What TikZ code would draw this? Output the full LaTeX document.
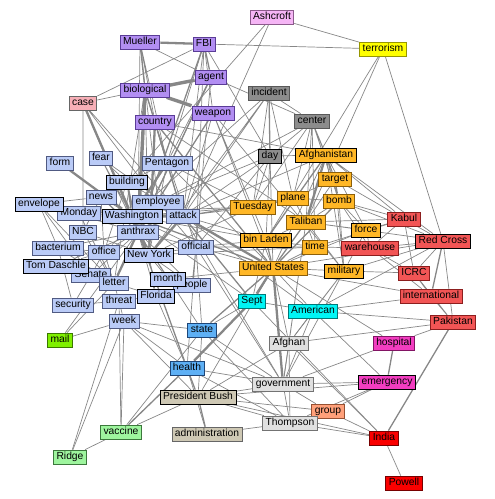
\documentclass[tikz,border=0pt]{standalone}
\usepackage{fontspec}
\setmainfont{Liberation Sans}
\usepackage{xcolor}
\usetikzlibrary{backgrounds}
\definecolor{EdgeGray}{RGB}{135,135,135}
\definecolor{PurpFill}{RGB}{178,142,242}
\definecolor{PurpLine}{RGB}{90,60,150}
\definecolor{BlueFill}{RGB}{186,203,247}
\definecolor{BlueLine}{RGB}{80,90,130}
\definecolor{OrangeFill}{RGB}{255,183,38}
\definecolor{OrangeLine}{RGB}{140,95,10}
\definecolor{RedFill}{RGB}{242,85,85}
\definecolor{RedLine}{RGB}{140,30,30}
\definecolor{PinkFill}{RGB}{245,181,245}
\definecolor{PinkLine}{RGB}{140,90,140}
\definecolor{YellowFill}{RGB}{255,255,0}
\definecolor{YellowLine}{RGB}{150,150,0}
\definecolor{CaseFill}{RGB}{247,175,183}
\definecolor{DarkGrayFill}{RGB}{140,140,140}
\definecolor{LightGrayFill}{RGB}{224,224,224}
\definecolor{TanFill}{RGB}{206,200,180}
\definecolor{CyanFill}{RGB}{0,245,245}
\definecolor{CyanLine}{RGB}{0,120,120}
\definecolor{StateFill}{RGB}{94,176,245}
\definecolor{StateLine}{RGB}{30,70,120}
\definecolor{MailFill}{RGB}{127,240,0}
\definecolor{MailLine}{RGB}{60,120,0}
\definecolor{GreenFill}{RGB}{158,245,158}
\definecolor{GreenLine}{RGB}{60,120,60}
\definecolor{MagentaFill}{RGB}{242,61,192}
\definecolor{MagentaLine}{RGB}{130,20,100}
\definecolor{GroupFill}{RGB}{255,160,122}
\definecolor{GroupLine}{RGB}{150,80,50}
\definecolor{IndiaFill}{RGB}{250,0,0}
\definecolor{IndiaLine}{RGB}{120,0,0}

\tikzset{
	term/.style={draw, line width=0.8pt, inner xsep=3pt, inner ysep=2pt,
		text height=7.6pt, text depth=2.3pt, font=\fontsize{10.3}{12}\selectfont},
	purp/.style={term, fill=PurpFill, draw=PurpLine},
	lblue/.style={term, fill=BlueFill, draw=BlueLine},
	orng/.style={term, fill=OrangeFill, draw=OrangeLine},
	rd/.style={term, fill=RedFill, draw=RedLine},
	dgray/.style={term, fill=DarkGrayFill, draw=black!65},
	lgray/.style={term, fill=LightGrayFill, draw=black!55},
	tan/.style={term, fill=TanFill, draw=black!60},
	cyn/.style={term, fill=CyanFill, draw=CyanLine},
	stat/.style={term, fill=StateFill, draw=StateLine},
	grn/.style={term, fill=GreenFill, draw=GreenLine},
	mag/.style={term, fill=MagentaFill, draw=MagentaLine},
	hot/.style={draw=black},
	edge/.style={draw=EdgeGray, line width=0.7pt},
	medge/.style={draw=EdgeGray, line width=1.3pt},
	tedge/.style={draw=EdgeGray, line width=2.3pt},
	vtedge/.style={draw=EdgeGray, line width=3.4pt}
}

\begin{document}
\begin{tikzpicture}[x=1pt, y=-1pt]
		\useasboundingbox (0,0) rectangle (495,499);
		% top terms
		\node[term, fill=PinkFill, draw=PinkLine] (ashcroft) at (272,17) {Ashcroft};
		\node[term, fill=YellowFill, draw=YellowLine] (terrorism) at (383,49) {terrorism};
		\node[purp] (mueller) at (140,42) {Mueller};
		\node[purp] (fbi) at (204,44) {FBI};
		\node[purp] (agent) at (211,77) {agent};
		\node[purp] (biological) at (145,90) {biological};
		\node[term, fill=CaseFill, draw=black!60] (case) at (83,103) {case};
		\node[purp] (weapon) at (213,113) {weapon};
		\node[purp] (country) at (155,122) {country};
		\node[dgray] (incident) at (269,93) {incident};
		\node[dgray] (center) at (312,121) {center};
		\node[dgray, hot] (day) at (270,156) {day};
		\node[orng, hot] (afghanistan) at (326,155) {Afghanistan};
		% light blue cluster
		\node[lblue] (form) at (60,163) {form};
		\node[lblue] (fear) at (101,158) {fear};
		\node[lblue] (pentagon) at (167,163) {Pentagon};
		\node[lblue] (monday) at (79,213) {Monday};
		\node[lblue, hot] (building) at (127,182) {building};
		\node[lblue] (news) at (101,197) {news};
		\node[lblue, hot] (envelope) at (39,204) {envelope};
		\node[lblue] (employee) at (158,202) {employee};
		\node[lblue] (attack) at (183,216) {attack};
		\node[lblue, hot] (washington) at (132,216) {Washington};
		\node[lblue] (nbc) at (83,232) {NBC};
		\node[lblue] (anthrax) at (138,232) {anthrax};
		\node[lblue] (bacterium) at (58,248) {bacterium};
		\node[lblue] (official) at (196,247) {official};
		\node[lblue] (office) at (104,252) {office};
		\node[lblue, hot] (newyork) at (149,255) {New York};
		\node[lblue] (senate) at (91,275) {Senate};
		\node[lblue, hot] (daschle) at (56,266) {Tom Daschle};
		\node[lblue] (letter) at (114,283) {letter};
		\node[lblue] (people) at (192,285) {people};
		\node[lblue, hot] (month) at (168,279) {month};
		\node[lblue, hot] (florida) at (156,296) {Florida};
		\node[lblue] (threat) at (119,301) {threat};
		\node[lblue] (security) at (73,305) {security};
		\node[lblue] (week) at (124,321) {week};
		% orange cluster
		\node[orng] (tuesday) at (253,207) {Tuesday};
		\node[orng] (plane) at (293,198) {plane};
		\node[orng] (target) at (335,179) {target};
		\node[orng] (bomb) at (339,201) {bomb};
		\node[orng] (taliban) at (306,222) {Taliban};
		\node[orng, hot] (force) at (366,230) {force};
		\node[orng, hot] (binladen) at (266,240) {bin Laden};
		\node[orng] (time) at (315,247) {time};
		\node[orng] (us) at (273,268) {United States};
		\node[orng, hot] (military) at (344,271) {military};
		% red cluster
		\node[rd] (kabul) at (404,219) {Kabul};
		\node[rd] (warehouse) at (370,248) {warehouse};
		\node[rd, hot] (redcross) at (443,241) {Red Cross};
		\node[rd] (icrc) at (414,273) {ICRC};
		\node[rd] (international) at (431,296) {international};
		\node[rd] (pakistan) at (453,322) {Pakistan};
		% lower terms
		\node[cyn] (sept) at (252,301) {Sept};
		\node[cyn] (american) at (313,311) {American};
		\node[stat] (state) at (202,330) {state};
		\node[term, fill=MailFill, draw=MailLine] (mail) at (60,340) {mail};
		\node[lgray] (afghan) at (289,343) {Afghan};
		\node[mag] (hospital) at (394,343) {hospital};
		\node[stat] (health) at (187,368) {health};
		\node[lgray] (government) at (283,384) {government};
		\node[mag, hot] (emergency) at (387,382) {emergency};
		\node[tan, hot] (bush) at (198,397) {President Bush};
		\node[term, fill=GroupFill, draw=GroupLine] (group) at (328,411) {group};
		\node[lgray] (thompson) at (290,423) {Thompson};
		\node[tan] (administration) at (207,434) {administration};
		\node[grn] (vaccine) at (121,432) {vaccine};
		\node[term, fill=IndiaFill, draw=IndiaLine] (india) at (384,438) {India};
		\node[grn] (ridge) at (70,457) {Ridge};
		\node[term, fill=IndiaFill, draw=IndiaLine] (powell) at (404,483) {Powell};
		\begin{scope}[on background layer]
		% thin links
		\draw[edge] (fbi)--(terrorism) (ashcroft)--(terrorism) (ashcroft)--(building) (ashcroft)--(attack);
		\draw[edge] (mueller)--(country) (mueller)--(pentagon) (mueller)--(agent) (mueller)--(anthrax) (mueller)--(employee);
		\draw[edge] (fbi)--(case) (fbi)--(weapon) (fbi)--(pentagon) (fbi)--(attack) (fbi)--(official) (fbi)--(day);
		\draw[edge] (agent)--(center) (agent)--(letter) (agent)--(pentagon) (agent)--(official);
		\draw[edge] (biological)--(case) (biological)--(pentagon) (biological)--(newyork) (biological)--(letter);
		\draw[edge] (case)--(nbc) (case)--(attack) (case)--(employee);
		\draw[edge] (weapon)--(us) (weapon)--(military) (weapon)--(attack) (weapon)--(binladen);
		\draw[edge] (country)--(attack) (country)--(official) (country)--(afghanistan) (country)--(taliban);
		\draw[edge] (incident)--(center) (incident)--(tuesday) (incident)--(plane) (incident)--(washington) (incident)--(newyork) (incident)--(attack);
		\draw[edge] (center)--(day) (center)--(afghanistan) (center)--(tuesday) (center)--(plane) (center)--(taliban) (center)--(target) (center)--(bomb) (center)--(washington) (center)--(time);
		\draw[edge] (day)--(tuesday) (day)--(afghanistan) (day)--(attack) (day)--(us) (day)--(binladen) (day)--(employee) (day)--(official);
		\draw[edge] (afghanistan)--(target) (afghanistan)--(bomb) (afghanistan)--(us) (afghanistan)--(military) (afghanistan)--(kabul) (afghanistan)--(force) (afghanistan)--(redcross);
		\draw[edge] (terrorism)--(taliban) (terrorism)--(binladen) (terrorism)--(redcross);
		\draw[edge] (fear)--(building) (fear)--(washington) (fear)--(anthrax) (fear)--(attack);
		\draw[edge] (pentagon)--(newyork) (pentagon)--(building) (pentagon)--(us) (pentagon)--(tuesday);
		\draw[edge] (building)--(news) (building)--(office) (building)--(us);
		\draw[edge] (news)--(washington) (news)--(nbc) (news)--(office);
		\draw[edge] (envelope)--(letter) (envelope)--(anthrax) (envelope)--(bacterium) (envelope)--(senate) (envelope)--(news);
		\draw[edge] (employee)--(washington) (employee)--(office) (employee)--(official) (employee)--(us);
		\draw[edge] (monday)--(washington) (monday)--(tuesday) (monday)--(letter);
		\draw[edge] (washington)--(official) (washington)--(tuesday) (washington)--(sept) (washington)--(binladen);
		\draw[edge] (attack)--(tuesday) (attack)--(binladen) (attack)--(plane) (attack)--(afghanistan) (attack)--(american) (attack)--(government);
		\draw[edge] (nbc)--(letter) (nbc)--(newyork);
		\draw[edge] (anthrax)--(office) (anthrax)--(bacterium) (anthrax)--(florida) (anthrax)--(senate) (anthrax)--(daschle) (anthrax)--(official) (anthrax)--(state) (anthrax)--(people) (anthrax)--(month);
		\draw[edge] (bacterium)--(office) (bacterium)--(letter) (bacterium)--(security);
		\draw[edge] (office)--(daschle) (office)--(senate) (office)--(letter);
		\draw[edge] (newyork)--(official) (newyork)--(people) (newyork)--(month) (newyork)--(florida) (newyork)--(tuesday) (newyork)--(time);
		\draw[edge] (official)--(us) (official)--(health) (official)--(people) (official)--(binladen) (official)--(time) (official)--(state) (official)--(government);
		\draw[edge] (daschle)--(senate) (daschle)--(letter) (senate)--(security);
		\draw[edge] (letter)--(threat) (letter)--(florida) (letter)--(mail);
		\draw[edge] (month)--(people) (month)--(us) (florida)--(threat) (florida)--(people) (florida)--(health);
		\draw[edge] (threat)--(security) (threat)--(week) (threat)--(ridge) (threat)--(vaccine);
		\draw[edge] (mail)--(week) (mail)--(anthrax);
		\draw[edge] (week)--(vaccine) (week)--(ridge) (week)--(health) (week)--(bush) (week)--(government) (week)--(state);
		\draw[edge] (ridge)--(vaccine) (vaccine)--(state) (vaccine)--(bush);
		\draw[edge] (plane)--(tuesday) (plane)--(target) (plane)--(bomb) (plane)--(taliban);
		\draw[edge] (target)--(bomb) (target)--(taliban) (target)--(military) (target)--(kabul);
		\draw[edge] (bomb)--(taliban) (bomb)--(kabul) (bomb)--(force) (bomb)--(military) (bomb)--(redcross) (bomb)--(warehouse);
		\draw[edge] (taliban)--(binladen) (taliban)--(military) (taliban)--(force) (taliban)--(kabul) (taliban)--(time) (taliban)--(government) (taliban)--(afghan) (taliban)--(redcross);
		\draw[edge] (force)--(military) (force)--(us) (force)--(kabul) (force)--(warehouse);
		\draw[edge] (kabul)--(redcross) (kabul)--(warehouse) (kabul)--(icrc) (kabul)--(time);
		\draw[edge] (binladen)--(time) (binladen)--(sept) (time)--(us) (time)--(warehouse);
		\draw[edge] (warehouse)--(redcross) (warehouse)--(icrc) (warehouse)--(international);
		\draw[edge] (redcross)--(icrc) (redcross)--(pakistan) (redcross)--(american) (redcross)--(military) (redcross)--(us);
		\draw[edge] (us)--(military) (us)--(american) (us)--(afghan) (us)--(bush) (us)--(international) (us)--(hospital);
		\draw[edge] (military)--(icrc) (military)--(american) (military)--(afghan) (military)--(government);
		\draw[edge] (icrc)--(international) (icrc)--(pakistan) (international)--(american) (international)--(pakistan);
		\draw[edge] (pakistan)--(hospital) (pakistan)--(afghan) (pakistan)--(american);
		\draw[edge] (sept)--(american) (sept)--(state) (sept)--(india);
		\draw[edge] (american)--(government) (american)--(afghan) (american)--(emergency);
		\draw[edge] (state)--(bush) (state)--(government) (state)--(thompson);
		\draw[edge] (afghan)--(government) (afghan)--(thompson) (afghan)--(bush);
		\draw[edge] (hospital)--(government);
		\draw[edge] (health)--(administration) (health)--(thompson) (health)--(government);
		\draw[edge] (government)--(emergency) (government)--(thompson) (government)--(bush) (government)--(group);
		\draw[edge] (emergency)--(group) (emergency)--(bush) (emergency)--(thompson);
		\draw[edge] (bush)--(thompson) (bush)--(group) (bush)--(india);
		\draw[edge] (group)--(thompson) (group)--(india) (thompson)--(administration) (thompson)--(india);
		\draw[edge] (india)--(powell) (india)--(afghan);
		% heavier links
		\draw[medge] (fbi)--(agent) (fbi)--(anthrax) (biological)--(country) (mueller)--(biological);
		\draw[medge] (case)--(anthrax) (country)--(pentagon) (country)--(us) (weapon)--(anthrax) (agent)--(anthrax);
		\draw[medge] (incident)--(day) (building)--(washington) (building)--(anthrax) (news)--(anthrax) (pentagon)--(attack);
		\draw[medge] (washington)--(us) (employee)--(anthrax) (anthrax)--(health) (letter)--(senate) (daschle)--(letter);
		\draw[medge] (afghanistan)--(binladen) (bomb)--(us) (redcross)--(international) (pakistan)--(india);
		\draw[medge] (sept)--(attack) (us)--(state) (binladen)--(us) (hospital)--(emergency);
		\draw[medge] (bush)--(administration) (health)--(bush) (vaccine)--(health) (us)--(taliban);
		% strongest links
		\draw[tedge] (mueller)--(fbi) (case)--(washington) (form)--(washington) (country)--(newyork);
		\draw[tedge] (pentagon)--(washington) (anthrax)--(newyork) (attack)--(newyork) (attack)--(us);
		\draw[tedge] (afghanistan)--(taliban) (anthrax)--(letter) (sept)--(health) (sept)--(us) (us)--(government);
		\draw[vtedge] (biological)--(agent) (biological)--(weapon) (biological)--(anthrax);
		\draw[vtedge] (washington)--(newyork) (washington)--(attack);
		\end{scope}
	\end{tikzpicture}
\end{document}
